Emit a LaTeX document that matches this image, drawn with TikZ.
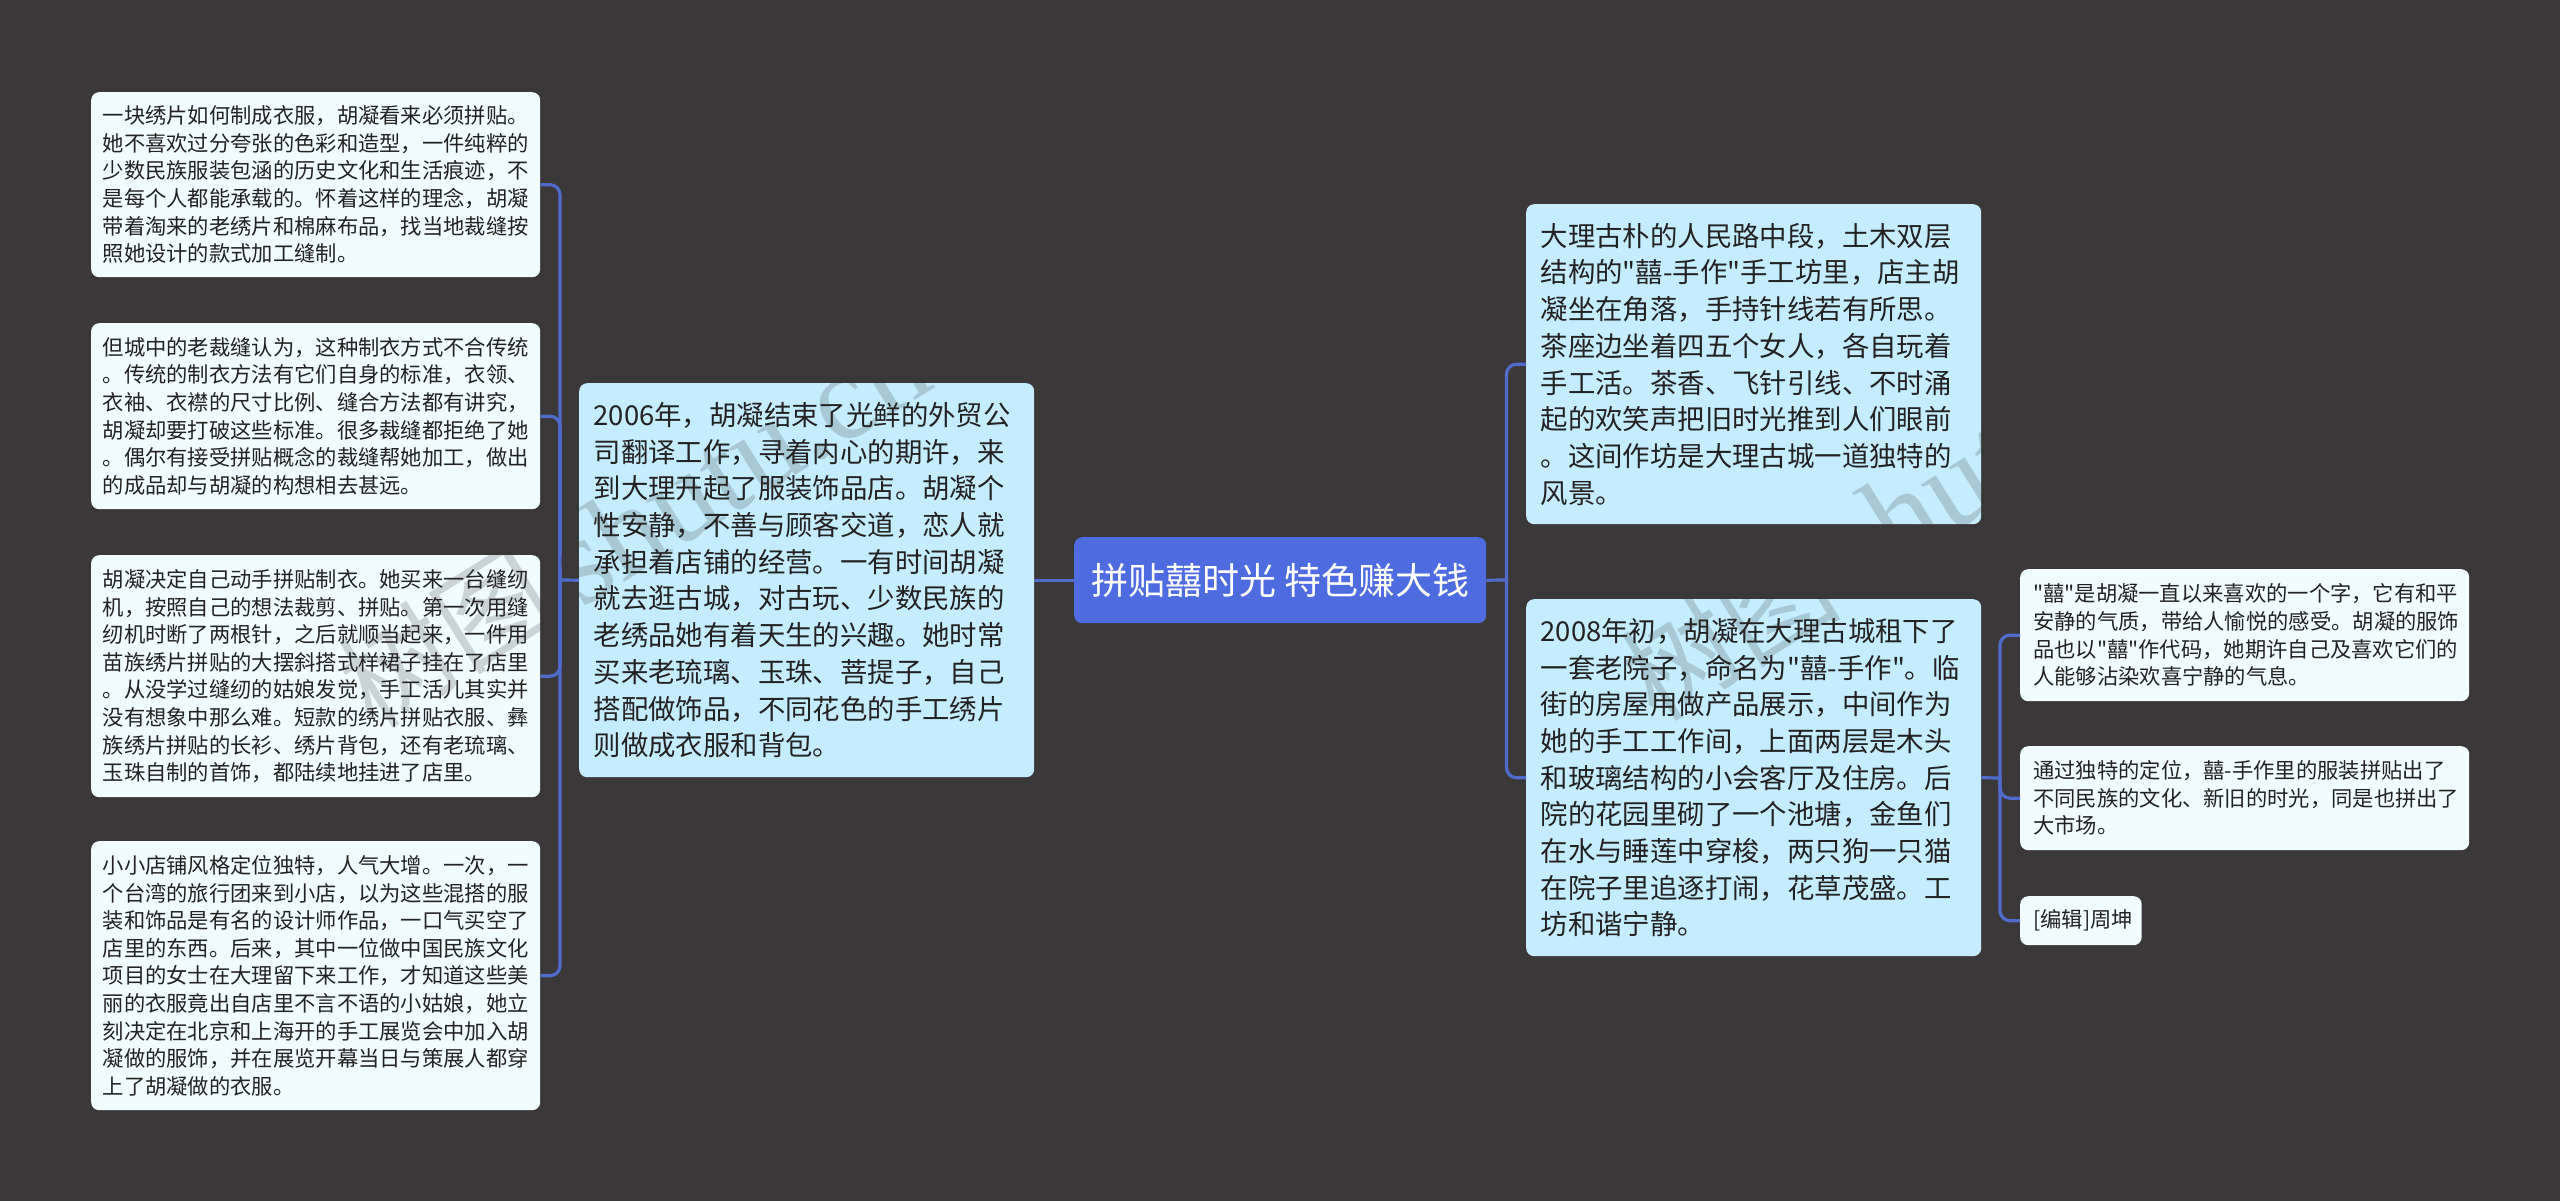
\documentclass[tikz,border=0pt]{standalone}
\usepackage{fontspec}
\newfontfamily\cjkf{Noto Sans CJK SC}
\newfontfamily\wmserif{Liberation Serif}
\definecolor{bgc}{HTML}{3A3839}
\definecolor{leafc}{HTML}{F0FCFF}
\definecolor{midc}{HTML}{C6EDFF}
\definecolor{rootc}{HTML}{4E6BE0}
\definecolor{linkc}{HTML}{4F6BCC}
\definecolor{inkc}{HTML}{222222}
\definecolor{wmc}{HTML}{353535}
\tikzset{
  boxbase/.style={rectangle, rounded corners=8pt, anchor=north west, align=left, inner ysep=0pt, text=inkc},
  leaf/.style={boxbase, fill=leafc, inner xsep=11.5pt, text width=426pt,
    font=\cjkf\fontsize{21.3}{27.6}\selectfont},
  leafr/.style={leaf, inner xsep=13pt, text width=423pt},
  midbox/.style={boxbase, fill=midc, inner xsep=14.5pt, text width=426pt,
    font=\cjkf\fontsize{27.4}{36.7}\selectfont},
  rootbox/.style={boxbase, fill=rootc, inner xsep=0pt, align=center, text=white,
    font=\cjkf\fontsize{37}{44}\selectfont},
  link/.style={draw=linkc, line width=3.2pt, rounded corners=10pt},
  wmcn/.style={text=wmc, text opacity=.2, rotate=32, inner sep=0pt, anchor=center, font=\cjkf\fontsize{110}{120}\selectfont},
  wmen/.style={text=wmc, text opacity=.2, rotate=32, inner sep=0pt, anchor=center, font=\wmserif\fontsize{125}{130}\selectfont},
}
\begin{document}
\begin{tikzpicture}[x=1pt,y=-1pt]
\useasboundingbox (0,0) rectangle (2560,1201);
\fill[bgc] (0,0) rectangle (2560,1201);

\node[rootbox, minimum width=412pt, minimum height=86pt] (root) at (1074,537) {拼贴囍时光 特色赚大钱};

\node[midbox, minimum height=394pt] (m1) at (579,383) {2006年，胡凝结束了光鲜的外贸公\\司翻译工作，寻着内心的期许，来\\到大理开起了服装饰品店。胡凝个\\性安静，不善与顾客交道，恋人就\\承担着店铺的经营。一有时间胡凝\\就去逛古城，对古玩、少数民族的\\老绣品她有着天生的兴趣。她时常\\买来老琉璃、玉珠、菩提子，自己\\搭配做饰品，不同花色的手工绣片\\则做成衣服和背包。};

\node[leaf, minimum height=185pt] (l1) at (91,92) {一块绣片如何制成衣服，胡凝看来必须拼贴。\\她不喜欢过分夸张的色彩和造型，一件纯粹的\\少数民族服装包涵的历史文化和生活痕迹，不\\是每个人都能承载的。怀着这样的理念，胡凝\\带着淘来的老绣片和棉麻布品，找当地裁缝按\\照她设计的款式加工缝制。};

\node[leaf, minimum height=186pt] (l2) at (91,323) {但城中的老裁缝认为，这种制衣方式不合传统\\。传统的制衣方法有它们自身的标准，衣领、\\衣袖、衣襟的尺寸比例、缝合方法都有讲究，\\胡凝却要打破这些标准。很多裁缝都拒绝了她\\。偶尔有接受拼贴概念的裁缝帮她加工，做出\\的成品却与胡凝的构想相去甚远。};

\node[leaf, minimum height=242pt] (l3) at (91,555) {胡凝决定自己动手拼贴制衣。她买来一台缝纫\\机，按照自己的想法裁剪、拼贴。第一次用缝\\纫机时断了两根针，之后就顺当起来，一件用\\苗族绣片拼贴的大摆斜搭式样裙子挂在了店里\\。从没学过缝纫的姑娘发觉，手工活儿其实并\\没有想象中那么难。短款的绣片拼贴衣服、彝\\族绣片拼贴的长衫、绣片背包，还有老琉璃、\\玉珠自制的首饰，都陆续地挂进了店里。};

\node[leaf, minimum height=269pt] (l4) at (91,841) {小小店铺风格定位独特，人气大增。一次，一\\个台湾的旅行团来到小店，以为这些混搭的服\\装和饰品是有名的设计师作品，一口气买空了\\店里的东西。后来，其中一位做中国民族文化\\项目的女士在大理留下来工作，才知道这些美\\丽的衣服竟出自店里不言不语的小姑娘，她立\\刻决定在北京和上海开的手工展览会中加入胡\\凝做的服饰，并在展览开幕当日与策展人都穿\\上了胡凝做的衣服。};

\node[midbox, minimum height=320pt] (r1) at (1526,204) {大理古朴的人民路中段，土木双层\\结构的"囍\mbox{-}手作"手工坊里，店主胡\\凝坐在角落，手持针线若有所思。\\茶座边坐着四五个女人，各自玩着\\手工活。茶香、飞针引线、不时涌\\起的欢笑声把旧时光推到人们眼前\\。这间作坊是大理古城一道独特的\\风景。};

\node[midbox, minimum height=357pt] (r2) at (1526,599) {2008年初，胡凝在大理古城租下了\\一套老院子，命名为"囍\mbox{-}手作"。临\\街的房屋用做产品展示，中间作为\\她的手工工作间，上面两层是木头\\和玻璃结构的小会客厅及住房。后\\院的花园里砌了一个池塘，金鱼们\\在水与睡莲中穿梭，两只狗一只猫\\在院子里追逐打闹，花草茂盛。工\\坊和谐宁静。};

\node[leafr, minimum height=132pt] (s1) at (2020,569) {"囍"是胡凝一直以来喜欢的一个字，它有和平\\安静的气质，带给人愉悦的感受。胡凝的服饰\\品也以"囍"作代码，她期许自己及喜欢它们的\\人能够沾染欢喜宁静的气息。};

\node[leafr, minimum height=104pt] (s2) at (2020,746) {通过独特的定位，囍\mbox{-}手作里的服装拼贴出了\\不同民族的文化、新旧的时光，同是也拼出了\\大市场。};

\node[leafr, text width=95.5pt, minimum height=49pt] (s3) at (2020,896) {[编辑]周坤};

\coordinate (jl) at (560,580);
\coordinate (jr) at (1506.5,580);
\coordinate (js) at (2000,778);

\draw[link] (root.west) -- (m1.east);
\draw[link] (m1.west) -- (jl);
\draw[link] (jl) |- (l1.east);
\draw[link] (jl) |- (l2.east);
\draw[link] (jl) |- (l3.east);
\draw[link] (jl) |- (l4.east);
\draw[link] (root.east) -- (jr);
\draw[link] (jr) |- (r1.west);
\draw[link] (jr) |- (r2.west);
\draw[link] (r2.east) -- (js);
\draw[link] (js) |- (s1.west);
\draw[link] (js) |- (s2.west);
\draw[link] (js) |- (s3.west);

\node[wmcn] (wa) at (445,637) {树图};
\node[wmen] (wb) at (737,462) {shutu.cn};
\node[wmcn] (wc) at (1728,630) {树图};
\node[wmen] (wd) at (2012,446) {shutu.cn};
\end{tikzpicture}
\end{document}
